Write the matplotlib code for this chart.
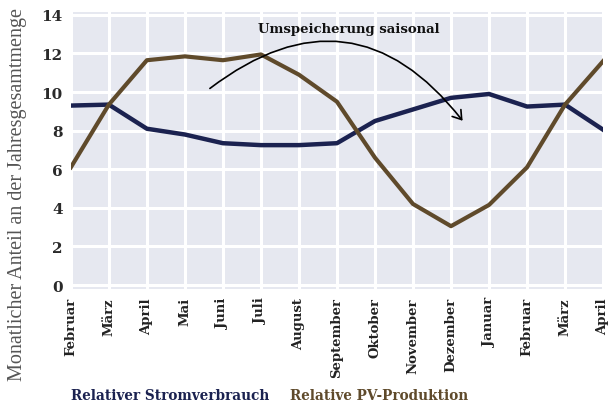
import numpy as np
import matplotlib.pyplot as plt
from matplotlib.patches import FancyArrowPatch

# Monate (Februar bis April des Folgejahres)
monate = ['Februar', 'März', 'April', 'Mai', 'Juni', 'Juli', 'August', 'September',
          'Oktober', 'November', 'Dezember', 'Januar', 'Februar', 'März', 'April']

# Anteile in Prozent
strom = [9.3, 9.35, 8.1, 7.8, 7.35, 7.25, 7.25, 7.35, 8.5, 9.1, 9.7, 9.9, 9.25, 9.35, 8.05]
pv = [6.1, 9.35, 11.65, 11.85, 11.65, 11.95, 10.9, 9.5, 6.6, 4.2, 3.05, 4.15, 6.1, 9.35, 11.6]

yticks = [0, 2, 4, 6, 8, 10, 12, 14]

navy = '#1b2250'
braun = '#5f4a2b'
hinter = '#e6e8f0'

plt.rcParams['font.family'] = 'DejaVu Serif'

fig = plt.figure(figsize=(6.16, 4.06), dpi=100)
ax = fig.add_axes([0.115, 0.286, 0.864, 0.682])
ax.set_facecolor(hinter)

x = np.arange(len(monate))
ax.plot(x, strom, color=navy, lw=3.2, solid_joinstyle='round', zorder=3)
ax.plot(x, pv, color=braun, lw=3.0, solid_joinstyle='round', zorder=3)

ax.set_xlim(0, len(monate) - 1)
ax.set_ylim(-0.2, 14.15)
ax.set_xticks(x)
ax.set_xticklabels(monate, rotation=90, fontsize=9.5, fontweight='bold', color='#222222')
ax.set_yticks(yticks)
ax.set_yticklabels([str(v) for v in yticks], fontsize=11, fontweight='bold', color='#2a2a2a')
ax.tick_params(length=0, pad=6)
ax.grid(True, color='white', lw=2.2)
ax.set_axisbelow(True)
for s in ax.spines.values():
    s.set_visible(False)

ax.set_ylabel('Monatlicher Anteil an der Jahresgesamtmenge', fontsize=14.5,
              family='Liberation Serif', color='#555555')
ax.yaxis.set_label_coords(-0.082, 0.343)

# Pfeil fuer die saisonale Umspeicherung
pfeil = FancyArrowPatch((3.6, 10.1), (10.35, 8.4), connectionstyle='arc3,rad=-0.5',
                        arrowstyle='->,head_length=6,head_width=4', color='black',
                        lw=1.2, zorder=4)
ax.add_patch(pfeil)
ax.text(7.3, 13.3, 'Umspeicherung saisonal', fontsize=9.5, fontweight='bold',
        ha='center', va='center', color='#111111', zorder=5)

# Legende als Text unten
fig.text(0.115, 0.015, 'Relativer Stromverbrauch', fontsize=9.8, fontweight='bold',
         color=navy)
fig.text(0.47, 0.015, 'Relative PV-Produktion', fontsize=9.8, fontweight='bold',
         color=braun)

fig.savefig('out.png', dpi=100)
